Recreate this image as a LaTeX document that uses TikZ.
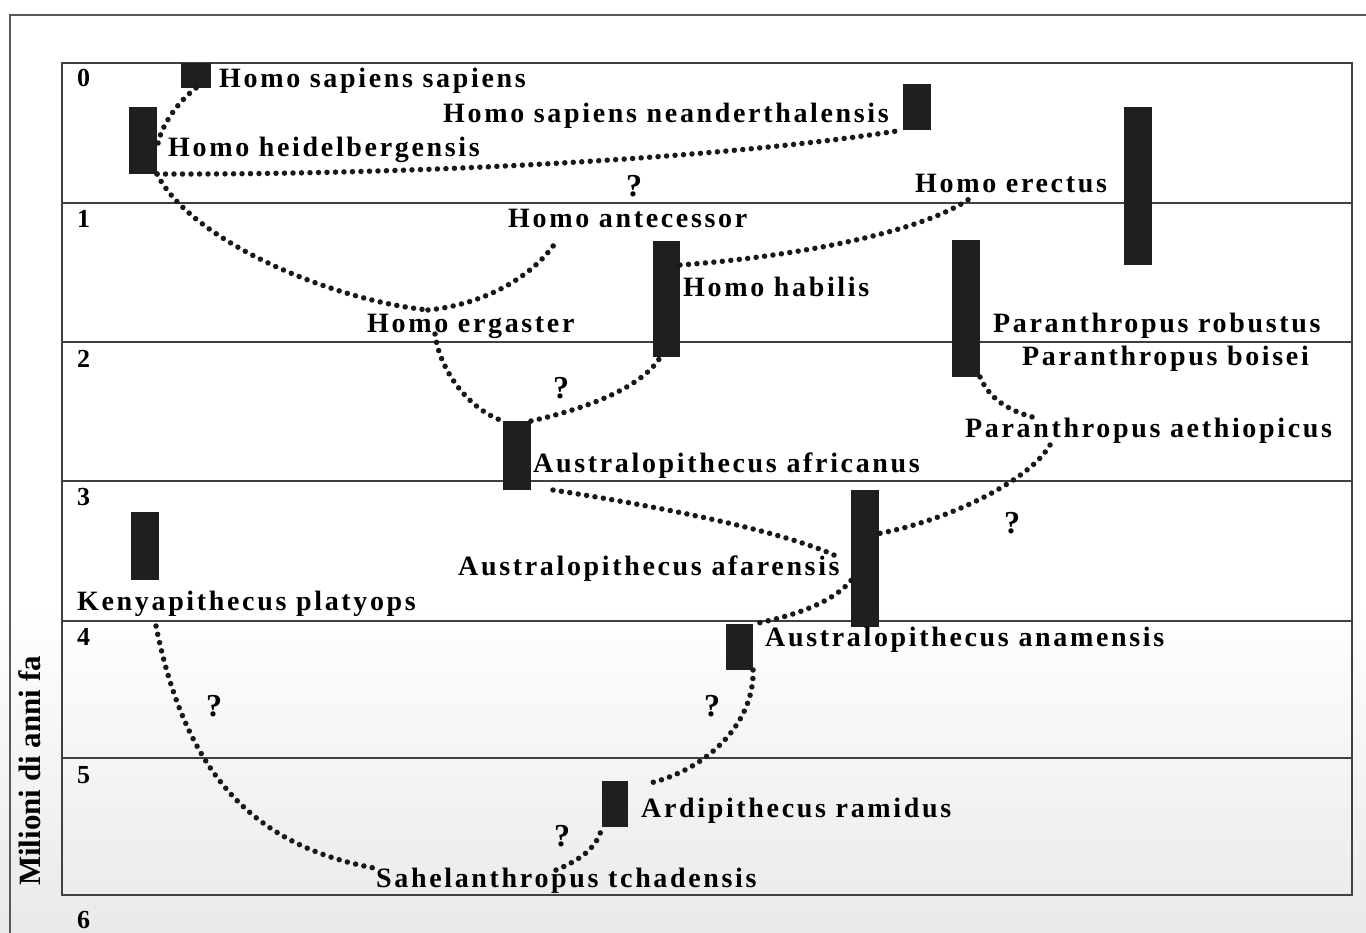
\documentclass[tikz,border=0pt]{standalone}
\usepackage{fontspec}
\setmainfont{Liberation Serif}
\newfontfamily\labfont[LetterSpace=9.5]{Liberation Serif}
\begin{document}
\begin{tikzpicture}[x=1pt,y=-1pt,
  lab/.style={font=\labfont\bfseries\fontsize{28}{32}\selectfont, anchor=base west, inner sep=0pt},
  num/.style={font=\bfseries\fontsize{26}{29}\selectfont, anchor=base west, inner sep=0pt},
  qm/.style={font=\bfseries\fontsize{32}{35}\selectfont, inner sep=0pt},
  bar/.style={fill=black!88, draw=none, inner sep=0pt, outer sep=0pt},
  link/.style={line width=5.5pt, dash pattern=on 0pt off 8.5pt, line cap=round, black!90},
  gridline/.style={draw=black!75, line width=1.6pt}]
\useasboundingbox (0,0) rectangle (1366,933);
\fill[white] (0,0) rectangle (1366,933);
\shade[top color=white, bottom color=gray!17] (0,600) rectangle (1366,933);
\draw[black!65, line width=1.5pt] (10,933) -- (10,15) -- (1366,15);
% table
\draw[gridline] (62,63) rectangle (1352,895);
\foreach \yy in {203,342,481,621,758} \draw[gridline] (62,\yy) -- (1352,\yy);
% numbers
\node[num] (n0) at (77,87) {0};
\node[num] (n1) at (77,228) {1};
\node[num] (n2) at (77,367) {2};
\node[num] (n3) at (77,505) {3};
\node[num] (n4) at (77,645) {4};
\node[num] (n5) at (77,783) {5};
\node[num] (n6) at (77,928) {6};
\node[rotate=90, font=\bfseries\fontsize{31}{34}\selectfont, inner sep=0pt] (ylab) at (30,771) {Milioni di anni fa};
% bars
\node[bar, minimum width=30pt, minimum height=25pt] (bHSS) at (196,75.5) {};
\node[bar, minimum width=28pt, minimum height=67pt] (bHH) at (143,140.5) {};
\node[bar, minimum width=28pt, minimum height=46pt] (bHN) at (917,107) {};
\node[bar, minimum width=28pt, minimum height=158pt] (bHE) at (1138,186) {};
\node[bar, minimum width=27pt, minimum height=116pt] (bHHab) at (666.5,299) {};
\node[bar, minimum width=28pt, minimum height=137pt] (bPR) at (966,308.5) {};
\node[bar, minimum width=28pt, minimum height=69pt] (bAAf) at (517,455.5) {};
\node[bar, minimum width=28pt, minimum height=68pt] (bKP) at (145,546) {};
\node[bar, minimum width=28pt, minimum height=137pt] (bAAfa) at (865,558.5) {};
\node[bar, minimum width=27pt, minimum height=46pt] (bAAn) at (739.5,647) {};
\node[bar, minimum width=26pt, minimum height=46pt] (bAR) at (615,804) {};
% labels
\node[lab] (lHSS) at (219,88) {Homo sapiens sapiens};
\node[lab] (lHN) at (443,123) {Homo sapiens neanderthalensis};
\node[lab] (lHH) at (168,157) {Homo heidelbergensis};
\node[lab] (lHE) at (915,193) {Homo erectus};
\node[lab] (lHA) at (508,228) {Homo antecessor};
\node[lab] (lHHab) at (683,297) {Homo habilis};
\node[lab] (lHErg) at (367,333) {Homo ergaster};
\node[lab] (lPR) at (993,333) {Paranthropus robustus};
\node[lab] (lPB) at (1022,366) {Paranthropus boisei};
\node[lab] (lPAe) at (965,437) {Paranthropus aethiopicus};
\node[lab] (lAAf) at (533,472) {Australopithecus africanus};
\node[lab] (lAAfa) at (458,575) {Australopithecus afarensis};
\node[lab] (lKP) at (77,610) {Kenyapithecus platyops};
\node[lab] (lAAn) at (765,646) {Australopithecus anamensis};
\node[lab] (lAR) at (641,817) {Ardipithecus ramidus};
\node[lab] (lST) at (376,887) {Sahelanthropus tchadensis};
% question marks
\node[qm] (q1) at (634,186) {?};
\node[qm] (q2) at (561,388) {?};
\node[qm] (q3) at (1012,523) {?};
\node[qm] (q4) at (214,706) {?};
\node[qm] (q5) at (712,706) {?};
\node[qm] (q6) at (562,836) {?};
% junction coordinates
\coordinate (jErg) at (428,310);
\coordinate (jErgB) at (435,334);
\coordinate (jHA) at (556,242);
\coordinate (jHE) at (972,197);
\coordinate (jPAe1) at (1040,419);
\coordinate (jPAe2) at (1050,445);
\coordinate (jKP) at (156,626);
\coordinate (jST1) at (374,868);
\coordinate (jST2) at (556,870);
\coordinate (jAR) at (646,784);
% connectors
\draw[link] (bHSS.south) .. controls (180,100) and (160,125) .. ([yshift=-8pt]bHH.east);
\draw[link] (bHH.south east) .. controls (450,175) and (750,155) .. (bHN.south west);
\draw[link] (bHH.south east) .. controls (190,240) and (330,300) .. (jErg);
\draw[link] (jErg) .. controls (480,305) and (530,280) .. (jHA);
\draw[link] (jErgB) .. controls (440,372) and (470,410) .. (bAAf.north west);
\draw[link] (bAAf.north east) .. controls (580,410) and (640,390) .. ([xshift=-6pt]bHHab.south);
\draw[link] ([yshift=34pt]bHHab.east) .. controls (780,258) and (920,235) .. (jHE);
\draw[link] (bPR.south east) .. controls (990,400) and (1010,412) .. (jPAe1);
\draw[link] (jPAe2) .. controls (1030,480) and (950,520) .. ([yshift=25pt]bAAfa.east);
\draw[link] ([xshift=22pt]bAAf.south east) .. controls (650,505) and (780,530) .. ([xshift=-16pt,yshift=3pt]bAAfa.west);
\draw[link] ([yshift=-22pt]bAAfa.west) .. controls (835,600) and (800,615) .. (bAAn.north east);
\draw[link] (bAAn.south east) .. controls (755,720) and (710,770) .. (jAR);
\draw[link] (jKP) .. controls (185,770) and (250,845) .. (jST1);
\draw[link] (jST2) .. controls (585,858) and (598,845) .. (bAR.south west);
\end{tikzpicture}
\end{document}
